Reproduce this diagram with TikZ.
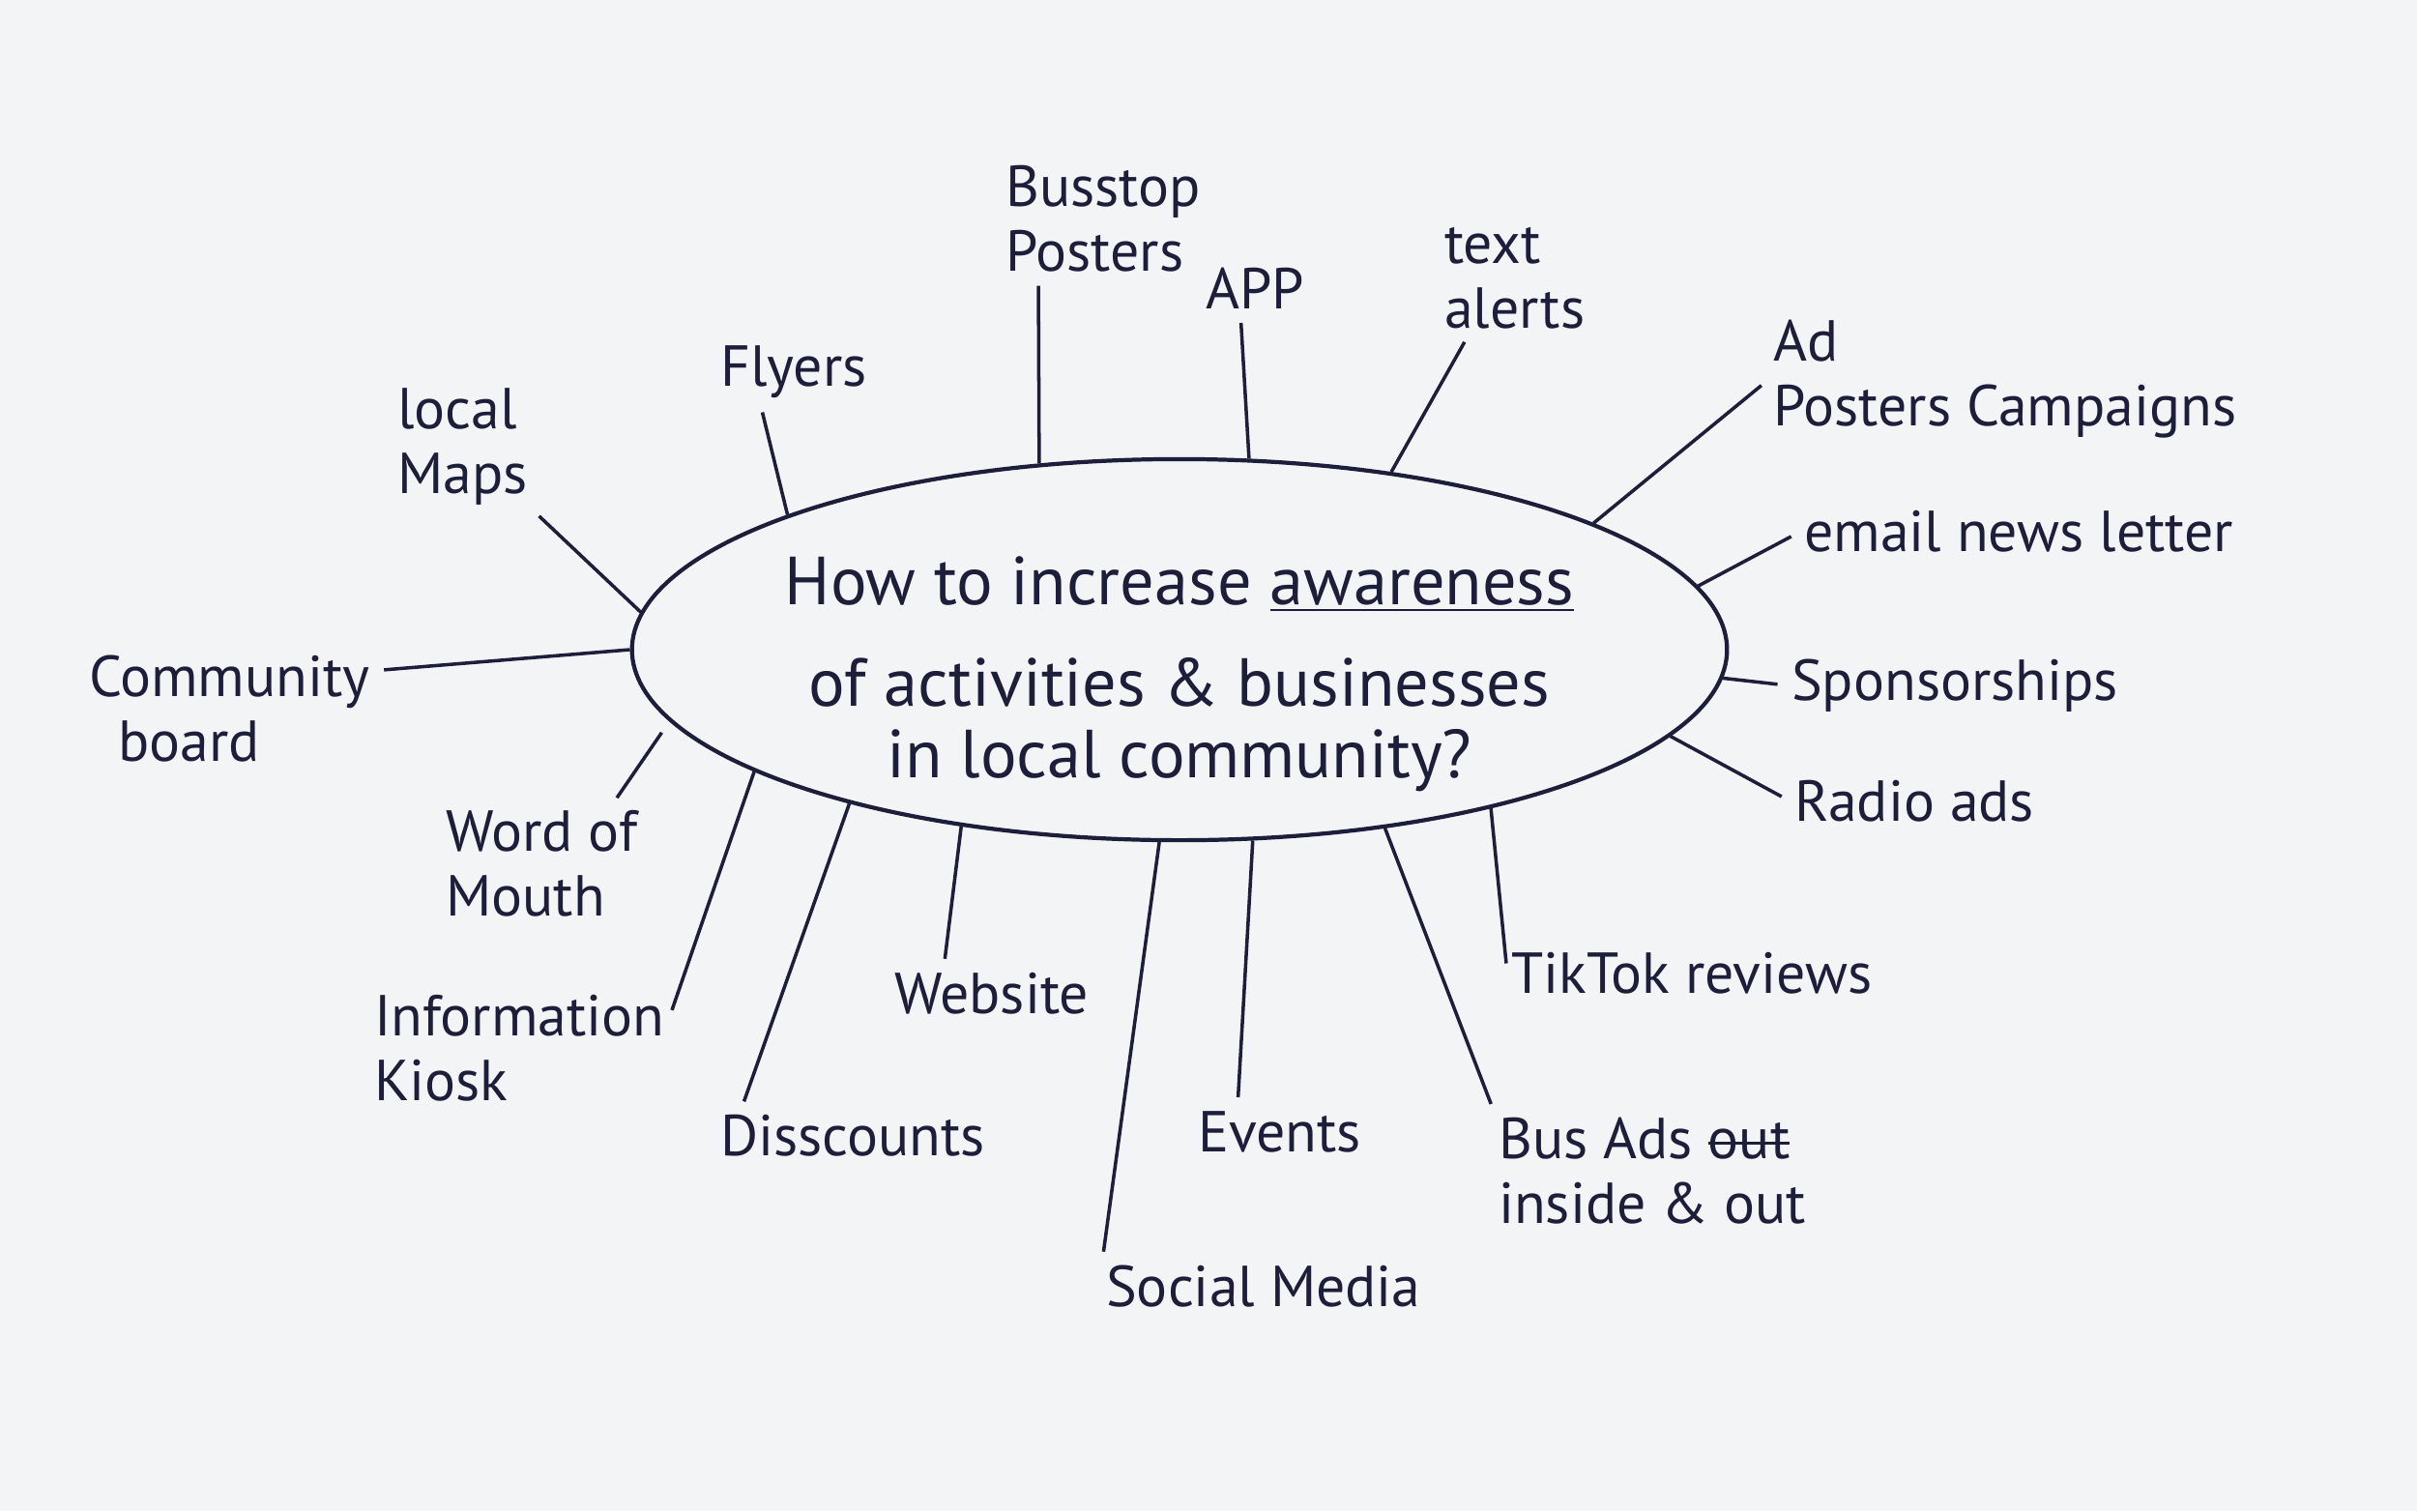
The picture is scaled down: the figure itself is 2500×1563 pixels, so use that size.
\documentclass[tikz,border=0pt]{standalone}
\usepackage{fontspec}
\setmainfont{PT Sans}
\usetikzlibrary{shapes.geometric, positioning}
\definecolor{ink}{RGB}{28, 30, 58}
\definecolor{paper}{RGB}{243, 244, 246}
\newsavebox{\strikebox}
\newcommand{\struck}[1]{\sbox{\strikebox}{#1}\rlap{\rule[0.25em]{\wd\strikebox}{0.8pt}}\usebox{\strikebox}}
\tikzstyle{hub} = [ellipse, draw=ink, line width=1.2pt, minimum width=11.32cm, minimum height=3.94cm, inner sep=0pt, align=center, text=ink, font=\fontsize{20}{30}\selectfont]
\tikzstyle{idea} = [anchor=west, align=left, text=ink, inner sep=1pt, font=\fontsize{17}{19}\selectfont]
\tikzstyle{branch} = [draw=ink, line width=1pt, shorten >=3pt]

\begin{document}
\begin{tikzpicture}[x=0.01cm, y=-0.01cm]
    % Paper
    \fill[paper] (0,0) rectangle (2500,1563);
    \useasboundingbox (0,0) rectangle (2500,1563);

    % Central question
    \node[hub] (hub) at (1220,672) {\raisebox{-0.4cm}[0pt][0pt]{\makebox[0pt]{\begin{tabular}{@{}c@{}}How to increase \underline{awareness}\\ of activities \& businesses\\[-9pt] in local community?\end{tabular}}}};

    % Ideas above
    \node[idea] (maps) at (407,462) {local\\Maps};
    \node[idea] (flyers) at (741,385) {Flyers};
    \node[idea] (busstop) at (1036,226) {Busstop\\Posters};
    \node[idea] (app) at (1243,298) {APP};
    \node[idea] (alerts) at (1490,288) {text\\alerts};

    % Ideas on the right
    \node[idea] (adpost) at (1830,392) {Ad\\Posters Campaigns};
    \node[idea] (email) at (1862,550) {email news letter};
    \node[idea] (sponsor) at (1849,709) {Sponsorships};
    \node[idea] (radio) at (1852,829) {Radio ads};
    \node[idea] (tiktok) at (1559,1007) {TikTok reviews};
    \node[idea] (busads) at (1546,1211) {Bus Ads \struck{out}\\inside \& out};

    % Ideas below
    \node[idea] (events) at (1235,1171) {Events};
    \node[idea] (social) at (1140,1331) {Social Media};
    \node[idea] (website) at (921,1028) {Website};
    \node[idea] (disc) at (741,1175) {Disscounts};

    % Ideas on the left
    \node[idea] (kiosk) at (383,1084) {Information\\Kiosk};
    \node[idea] (wom) at (457,893) {Word of\\Mouth};
    \node[idea] (community) at (88,733) {Community\\\hspace{0.3cm}board};

    % Branches
    \draw[branch] (hub.176) -- (maps.south east);
    \draw[branch] (hub.161) -- ([xshift=0.45cm]flyers.south west);
    \draw[branch] (hub.127) -- ([xshift=0.38cm]busstop.south west);
    \draw[branch] (hub.70) -- ([xshift=0.4cm]app.south west);
    \draw[branch] (hub.40) -- ([xshift=0.3cm]alerts.south west);
    \draw[branch] (hub.17) -- (adpost.west);
    \draw[branch] (hub.7.5) -- (email.west);
    \draw[branch] (hub.-3) -- (sponsor.west);
    \draw[branch] (hub.-10) -- (radio.west);
    \draw[branch] (hub.-27) -- (tiktok.west);
    \draw[branch] (hub.-41) -- (busads.north west);
    \draw[branch] (hub.-69) -- ([xshift=0.45cm]events.north west);
    \draw[branch] (hub.-96) -- (social.north west);
    \draw[branch] (hub.-141) -- ([xshift=0.55cm]website.north west);
    \draw[branch] (hub.-155) -- ([xshift=0.25cm]disc.north west);
    \draw[branch] (hub.-164) -- ([yshift=-0.3cm]kiosk.north east);
    \draw[branch, shorten <=4pt] (hub.-172) -- ([xshift=1.75cm]wom.north west);
    \draw[branch] (hub.180) -- ([yshift=-0.2cm]community.north east);
\end{tikzpicture}
\end{document}
